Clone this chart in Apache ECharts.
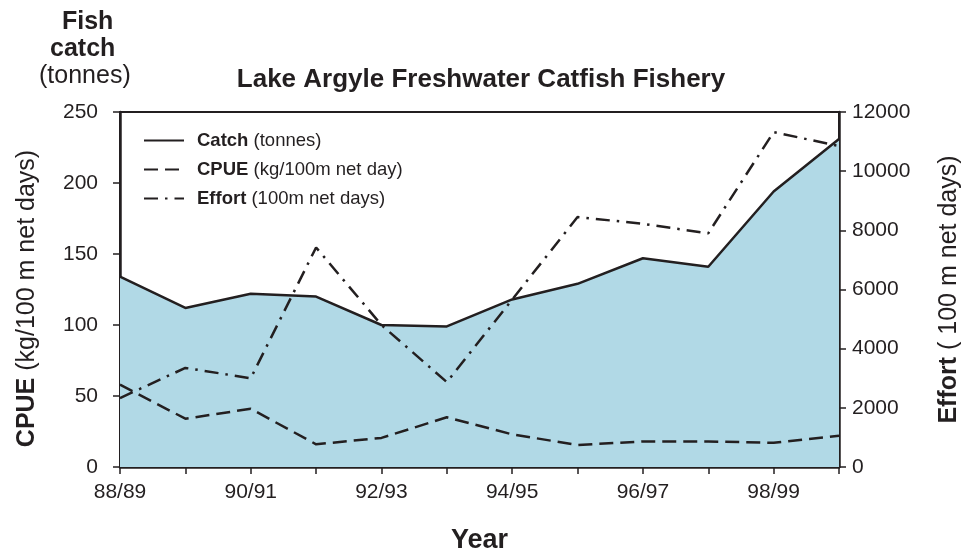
<!DOCTYPE html>
<html>
<head>
<meta charset="utf-8">
<script src="https://cdn.jsdelivr.net/npm/echarts@6/dist/echarts.min.js"></script>
<style>
  html, body { margin: 0; padding: 0; background: #fff; }
  #chart { width: 962px; height: 553px; }
</style>
</head>
<body>
<div id="chart"></div>
<script>
// season labels along the x axis
var years = ['88/89', '89/90', '90/91', '91/92', '92/93', '93/94',
             '94/95', '95/96', '96/97', '97/98', '98/99', '99/00'];
// catch in tonnes (left axis)
var catchT = [134, 112, 122, 120, 100, 99, 118, 129, 147, 141, 194, 231];
// kg per 100m net day (left axis)
var cpue = [58, 34, 41, 16, 20.5, 35, 23, 15.5, 18, 18, 17, 22];
// 100m net days (right axis)
var effort = [2330, 3350, 3000, 7420, 4800, 2870, 5660, 8450, 8220, 7900, 11320, 10850];

var leftTicks = { min: 0, max: 250, interval: 50 };
var rightTicks = { min: 0, max: 12000, interval: 2000 };

var ink = '#231f20';
var font = '"Liberation Sans", Arial, sans-serif';

var myChart = echarts.init(document.getElementById('chart'));

var option = {
    backgroundColor: '#fff',
    textStyle: { fontFamily: font, color: ink },
    title: [
        {
            text: 'Lake Argyle Freshwater Catfish Fishery',
            left: 'center', top: 62,
            textStyle: { fontFamily: font, fontSize: 26, fontWeight: 'bold', color: ink }
        }
    ],
    graphic: [
        { type: 'text', left: 62, top: 10,
          style: { text: 'Fish', font: 'bold 25px ' + font, fill: ink } },
        { type: 'text', left: 50, top: 37,
          style: { text: 'catch', font: 'bold 25px ' + font, fill: ink } },
        { type: 'text', left: 39, top: 64,
          style: { text: '(tonnes)', font: '25px ' + font, fill: ink } }
    ],
    legend: {
        orient: 'vertical',
        left: 138, top: 126,
        itemWidth: 40, itemHeight: 14, itemGap: 10,
        itemStyle: { color: 'transparent', borderWidth: 0, opacity: 0 },
        textStyle: {
            fontFamily: font, fontSize: 18.5, color: ink, padding: [0, 0, 0, 8],
            rich: { b: { fontFamily: font, fontSize: 18.5, fontWeight: 'bold', color: ink } }
        },
        formatter: function (name) {
            var extra = { 'Catch': ' (tonnes)', 'CPUE': ' (kg/100m net day)', 'Effort': ' (100m net days)' };
            return '{b|' + name + '}' + extra[name];
        },
        data: ['Catch', 'CPUE', 'Effort']
    },
    grid: {
        left: 120, right: 123, top: 112, bottom: 86,
        outerBoundsMode: 'none',
        containLabel: false,
        show: true, borderColor: ink, borderWidth: 2, backgroundColor: 'transparent'
    },
    xAxis: {
        type: 'category',
        data: years,
        boundaryGap: false,
        name: 'Year',
        nameLocation: 'middle',
        nameGap: 60,
        nameTextStyle: { fontFamily: font, fontSize: 27, fontWeight: 'bold', color: ink },
        axisLine: { lineStyle: { color: ink, width: 2.5 } },
        axisTick: { interval: 0, length: 7, lineStyle: { color: ink, width: 1.5 } },
        axisLabel: { interval: 1, margin: 15, fontSize: 21, color: ink, fontFamily: font },
        splitLine: { show: false }
    },
    yAxis: [
        {
            type: 'value',
            min: leftTicks.min, max: leftTicks.max, interval: leftTicks.interval,
            name: '{b|CPUE} (kg/100 m net days)',
            nameLocation: 'middle', nameRotate: 90, nameGap: 80,
            nameTextStyle: {
                fontFamily: font, fontSize: 25, color: ink, padding: [0, 18, 0, 0],
                rich: { b: { fontFamily: font, fontSize: 25, fontWeight: 'bold', color: ink } }
            },
            axisLine: { show: true, lineStyle: { color: ink, width: 2.5 } },
            axisTick: { show: true, length: 7, lineStyle: { color: ink, width: 1.5 } },
            axisLabel: { margin: 22, fontSize: 21, color: ink, fontFamily: font },
            splitLine: { show: false }
        },
        {
            type: 'value',
            position: 'right',
            min: rightTicks.min, max: rightTicks.max, interval: rightTicks.interval,
            name: '{b|Effort} ( 100 m net days)',
            nameLocation: 'middle', nameRotate: 90, nameGap: 98,
            nameTextStyle: {
                fontFamily: font, fontSize: 25, color: ink,
                rich: { b: { fontFamily: font, fontSize: 25, fontWeight: 'bold', color: ink } }
            },
            axisLine: { show: true, lineStyle: { color: ink, width: 2.5 } },
            axisTick: { show: true, length: 7, lineStyle: { color: ink, width: 1.5 } },
            axisLabel: {
                margin: 13, fontSize: 21, color: ink, fontFamily: font,
                formatter: function (v) { return String(v); }
            },
            splitLine: { show: false }
        }
    ],
    series: [
        {
            name: 'Catch',
            type: 'line',
            yAxisIndex: 0,
            data: catchT,
            symbol: 'none',
            lineStyle: { color: ink, width: 2.5, type: 'solid' },
            itemStyle: { color: ink },
            areaStyle: { color: '#b1d9e6', opacity: 1 },
            z: 1
        },
        {
            name: 'CPUE',
            type: 'line',
            yAxisIndex: 0,
            data: cpue,
            symbol: 'none',
            lineStyle: { color: ink, width: 2.5, type: [14, 7] },
            itemStyle: { color: ink },
            z: 2
        },
        {
            name: 'Effort',
            type: 'line',
            yAxisIndex: 1,
            data: effort,
            symbol: 'none',
            lineStyle: { color: ink, width: 2.5, type: [14, 7, 2.5, 7] },
            itemStyle: { color: ink },
            z: 3
        }
    ]
};

myChart.setOption(option);
</script>
</body>
</html>
